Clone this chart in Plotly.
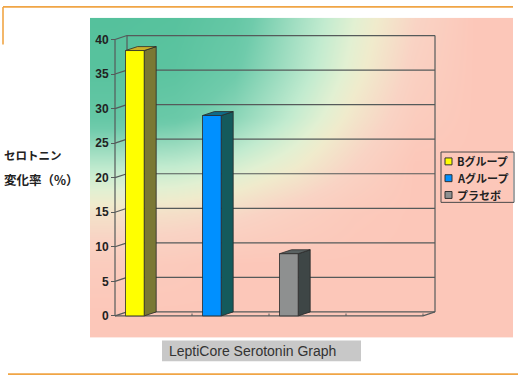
import plotly.graph_objects as go

# ---------------- data ----------------
series_names = ["Bグループ", "Aグループ", "プラセボ"]
values = [38.4, 29.0, 9.0]
category_slots = [0, 1, 2]          # slot of each series on the floor
n_slots = 4
y_ticks = [0, 5, 10, 15, 20, 25, 30, 35, 40]
y_title_lines = ["セロトニン", "変化率（%）"]
caption = "LeptiCore Serotonin Graph"

front_colors = ["#ffff00", "#0090ff", "#8e9090"]
side_colors = ["#7a7834", "#145a5c", "#3e4646"]
top_colors = ["#c9b02a", "#0f6c88", "#5a6262"]

# ---------------- geometry (pixels -> data units) ----------------
W, H = 527, 390
PX_X = 77.0      # px per category slot
PX_Y = 7.0       # px per y unit
X0_PX = 115.0    # front x=0
Y0_PX = 320.0    # front y=0
DEPTH_X = 12.0 / PX_X
DEPTH_Y = 4.0 / PX_Y
BAR_OFF = 10.5 / PX_X
BAR_W = 18.7 / PX_X

xr = [-0.05, n_slots + DEPTH_X + 0.05]
yr = [-0.3, 41.2]
dom_x = [(X0_PX + xr[0] * PX_X) / W, (X0_PX + xr[1] * PX_X) / W]
dom_y = [1 - (Y0_PX - yr[0] * PX_Y) / H, 1 - (Y0_PX - yr[1] * PX_Y) / H]

fig = go.Figure()

# ---------------- background panel (gradient, styling only) ----------------
bg_x = [115, 175, 235, 295, 355, 415, 475, 535]
bg_y = [18, 68, 118, 168, 218, 268, 318]
bg_z = [
    [0.00, 0.02, 0.12, 0.38, 0.62, 0.84, 1.0, 1.0],
    [0.02, 0.05, 0.18, 0.42, 0.66, 0.88, 1.0, 1.0],
    [0.12, 0.16, 0.30, 0.52, 0.74, 0.93, 1.0, 1.0],
    [0.48, 0.50, 0.57, 0.69, 0.85, 1.0, 1.0, 1.0],
    [0.76, 0.78, 0.82, 0.90, 0.97, 1.0, 1.0, 1.0],
    [0.94, 0.96, 1.0, 1.0, 1.0, 1.0, 1.0, 1.0],
    [1.0, 1.0, 1.0, 1.0, 1.0, 1.0, 1.0, 1.0],
]
fig.add_trace(go.Heatmap(
    z=bg_z, x=bg_x, y=bg_y, zsmooth="best",
    colorscale=[[0, "#55c19c"], [0.2, "#6fcbab"], [0.4, "#a6e0c4"], [0.5, "#c2ebcf"],
                [0.62, "#e2f0d2"], [0.7, "#f0ebcc"], [0.85, "#f9d3c4"], [1, "#fcc7b9"]],
    zmin=0, zmax=1, showscale=False, hoverinfo="skip",
    xaxis="x", yaxis="y"))

# ---------------- 3D frame ----------------
LC = "#555a5a"
def line(xs, ys, w=1.2, c=LC):
    fig.add_trace(go.Scatter(x=xs, y=ys, mode="lines", line=dict(color=c, width=w),
                             showlegend=False, hoverinfo="skip", xaxis="x2", yaxis="y2"))

ytop = y_ticks[-1]
for v in y_ticks:
    line([DEPTH_X, n_slots + DEPTH_X], [v + DEPTH_Y, v + DEPTH_Y])
    line([0, DEPTH_X], [v, v + DEPTH_Y])
line([DEPTH_X, DEPTH_X], [DEPTH_Y, ytop + DEPTH_Y])
line([n_slots + DEPTH_X, n_slots + DEPTH_X], [DEPTH_Y, ytop + DEPTH_Y])
line([0, 0], [0, ytop])
line([0, n_slots, n_slots + DEPTH_X], [0, 0, DEPTH_Y])
for k in range(1, n_slots + 1):
    line([k, k], [0, DEPTH_Y * 0.6], w=1)

# ---------------- bars ----------------
for name, v, s, fc, sc, tc in zip(series_names, values, category_slots,
                                  front_colors, side_colors, top_colors):
    x0 = s + BAR_OFF
    x1 = x0 + BAR_W
    fig.add_trace(go.Scatter(
        x=[x1, x1 + DEPTH_X, x1 + DEPTH_X, x1, x1],
        y=[0, DEPTH_Y, v + DEPTH_Y, v, 0],
        fill="toself", fillcolor=sc, mode="lines", line=dict(color="#2a2a2a", width=0.8),
        showlegend=False, hoverinfo="skip", xaxis="x2", yaxis="y2"))
    fig.add_trace(go.Scatter(
        x=[x0, x0 + DEPTH_X, x1 + DEPTH_X, x1, x0],
        y=[v, v + DEPTH_Y, v + DEPTH_Y, v, v],
        fill="toself", fillcolor=tc, mode="lines", line=dict(color="#2a2a2a", width=0.8),
        showlegend=False, hoverinfo="skip", xaxis="x2", yaxis="y2"))
    fig.add_trace(go.Scatter(
        x=[x0, x1, x1, x0, x0], y=[0, 0, v, v, 0],
        fill="toself", fillcolor=fc, mode="lines", line=dict(color="#2a2a2a", width=0.8),
        name=name, showlegend=False, hovertemplate=name + ": %{y}<extra></extra>",
        xaxis="x2", yaxis="y2"))

# ---------------- layout ----------------
shapes = []
annotations = []

OR = "#f0a545"
shapes.append(dict(type="line", xref="paper", yref="paper", x0=3 / W, x1=513 / W,
                   y0=1 - 7 / H, y1=1 - 7 / H, line=dict(color=OR, width=1.6)))
shapes.append(dict(type="line", xref="paper", yref="paper", x0=3 / W, x1=3 / W,
                   y0=1 - 7 / H, y1=1 - 45 / H, line=dict(color=OR, width=1.6)))
shapes.append(dict(type="line", xref="paper", yref="paper", x0=8 / W, x1=518 / W,
                   y0=1 - 379 / H, y1=1 - 379 / H, line=dict(color=OR, width=1.6)))

# legend (drawn manually to match the compact box)
LX0, LX1, LY0, LY1 = 441, 514, 154, 205
shapes.append(dict(type="rect", xref="paper", yref="paper", x0=LX0 / W, x1=LX1 / W,
                   y0=1 - LY1 / H, y1=1 - LY0 / H, line=dict(color="#4a4a4a", width=1),
                   fillcolor="rgba(0,0,0,0)"))
for i, (name, fc) in enumerate(zip(series_names, front_colors)):
    cy = 163.5 + i * 17
    shapes.append(dict(type="rect", xref="paper", yref="paper",
                       x0=445 / W, x1=452 / W, y0=1 - (cy + 3.5) / H, y1=1 - (cy - 3.5) / H,
                       fillcolor=fc, line=dict(color="#333333", width=1)))
    annotations.append(dict(text=name, xref="paper", yref="paper", x=455 / W, y=1 - cy / H,
                            xanchor="left", yanchor="middle", showarrow=False,
                            font=dict(family="Noto Sans CJK JP", size=11, color="#222222",
                                      weight="bold")))

# y title
for i, (t, sz) in enumerate(zip(y_title_lines, [11.5, 12.5])):
    annotations.append(dict(text=t, xref="paper", yref="paper", x=2 / W, y=1 - (157 + 25 * i) / H,
                            xanchor="left", yanchor="middle", showarrow=False,
                            font=dict(family="Noto Sans CJK JP", size=sz, color="#222222",
                                      weight="bold")))

# caption box
shapes.append(dict(type="rect", xref="paper", yref="paper", x0=162 / W, x1=361 / W,
                   y0=1 - 366 / H, y1=1 - 345 / H, fillcolor="#c8c8c8", line=dict(width=0),
                   layer="below"))
annotations.append(dict(text=caption, xref="paper", yref="paper", x=167 / W, y=1 - 355.5 / H,
                        xanchor="left", yanchor="middle", showarrow=False,
                        font=dict(family="Liberation Sans, Arial", size=14, color="#333333")))

fig.update_layout(
    width=W, height=H, autosize=False,
    margin=dict(l=0, r=0, t=0, b=0),
    paper_bgcolor="white", plot_bgcolor="rgba(0,0,0,0)",
    showlegend=False,
    xaxis=dict(domain=[90 / W, 513 / W], range=[90, 513], visible=False, fixedrange=True),
    yaxis=dict(domain=[1 - 342 / H, 1 - 18 / H], range=[342, 18], visible=False, fixedrange=True),
    xaxis2=dict(domain=dom_x, range=xr, anchor="y2", visible=False, fixedrange=True),
    yaxis2=dict(domain=dom_y, range=yr, anchor="free", position=X0_PX / W,
                tickvals=y_ticks, ticktext=[str(v) for v in y_ticks],
                ticks="outside", ticklen=4, tickcolor=LC, tickwidth=1.2,
                showgrid=False, zeroline=False, showline=False,
                tickfont=dict(family="Liberation Sans, Arial", size=12, color="#222222",
                              weight="bold"), fixedrange=True),
    shapes=shapes, annotations=annotations,
)

fig.write_html("out.html", config={"displayModeBar": False},
               post_script="document.body.style.margin='0';document.body.style.padding='0';")
